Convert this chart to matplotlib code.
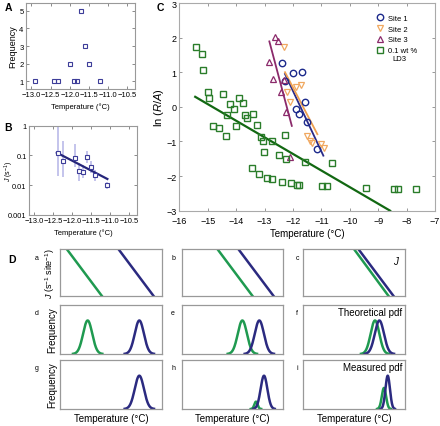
import numpy as np
import matplotlib
matplotlib.use("Agg")
import matplotlib.pyplot as plt

plt.rcParams['font.family'] = ['Liberation Sans', 'DejaVu Sans']
plt.rcParams['mathtext.fontset'] = 'custom'
plt.rcParams['mathtext.rm'] = 'Liberation Sans'
plt.rcParams['mathtext.it'] = 'Liberation Sans:italic'

# ---------------- data ----------------
# Panel A: frequency histogram points
A_temp = [-12.9, -12.4, -12.3, -12.0, -11.9, -11.8, -11.72, -11.6, -11.5, -11.2]
A_freq = [1, 1, 1, 2, 1, 1, 5, 3, 2, 1]

# Panel B: J vs temperature with error bars
B_temp = [-12.37, -12.26, -11.94, -11.83, -11.73, -11.61, -11.51, -11.40, -11.08]
B_J = [0.117, 0.067, 0.083, 0.030, 0.0266, 0.087, 0.0395, 0.022, 0.010]
B_J_hi = [0.9, 0.31, 0.24, 0.055, 0.046, 0.14, 0.063, 0.033, 0.013]
B_J_lo = [0.02, 0.019, 0.042, 0.014, 0.017, 0.055, 0.025, 0.014, 0.0076]
B_fit_T = [-12.41, -11.08]
B_fit_J = [0.123, 0.016]

# Panel C: ln(R/A) vs temperature
site1_T = [-12.40, -12.28, -11.99, -11.68, -11.58, -11.90, -11.79, -11.51, -11.16]
site1_y = [1.27, 0.75, 0.97, 1.01, 0.13, -0.06, -0.21, -0.45, -1.22]
site2_T = [-12.31, -11.89, -11.71, -12.22, -12.10, -11.52, -11.40, -11.32, -11.01, -10.90]
site2_y = [1.74, 0.58, 0.63, 0.42, 0.15, -0.84, -0.98, -1.03, -1.08, -1.20]
site3_T = [-12.63, -12.52, -12.83, -12.71, -12.30, -12.43, -12.24, -12.10]
site3_y = [2.01, 1.89, 1.31, 0.80, 0.77, 0.42, -0.16, -1.44]
ld3_T = [-15.42, -15.21, -15.17, -15.00, -14.94, -14.47, -14.23, -14.31, -14.09, -14.83,
         -14.60, -14.35, -14.00, -13.91, -13.77, -13.70, -13.63, -13.42, -13.27, -13.12,
         -13.07, -12.75, -13.01, -12.50, -12.27, -12.23, -11.58, -10.62, -13.43, -13.21,
         -12.92, -12.74, -12.40, -12.06, -11.87, -11.78, -10.96, -10.81, -9.43, -8.44,
         -8.29, -7.68]
ld3_y = [1.74, 1.53, 1.07, 0.42, 0.25, 0.37, 0.07, -0.24, -0.06, -0.55,
         -0.62, -0.83, -0.55, 0.25, 0.12, -0.24, -0.31, -0.21, -0.53, -0.86,
         -0.98, -0.98, -1.30, -1.39, -0.81, -1.52, -1.58, -1.62, -1.77, -1.94,
         -2.05, -2.08, -2.16, -2.20, -2.25, -2.25, -2.30, -2.30, -2.34, -2.36,
         -2.36, -2.36]
fit1_T, fit1_y = [-12.28, -10.93], [0.95, -1.41]
fit2_T, fit2_y = [-12.28, -11.14], [1.00, -0.79]
fit3_T, fit3_y = [-12.83, -12.04], [1.89, -0.55]
fitL_T, fitL_y = [-15.44, -8.58], [0.29, -3.0]

# Panel D: schematic (arbitrary units, x 0..10)
D_J_green = [(0.66, 4.10), (3.51, 6.95), (4.98, 8.36)]   # (x at top, x at bottom)
D_J_navy = [(5.74, 9.18), (5.57, 9.02), (5.41, 8.85)]
# pdf rows: (mu, sigma, peak) ; None = absent
D_theo_green = [(2.72, 0.45, 0.68), (5.97, 0.45, 0.68), (7.05, 0.43, 0.68)]
D_theo_navy = [(7.80, 0.45, 0.68), (7.64, 0.45, 0.68), (7.48, 0.45, 0.68)]
D_meas_green = [None, (7.31, 0.16, 0.15), (7.93, 0.21, 0.43)]
D_meas_navy = [(7.80, 0.45, 0.68), (8.10, 0.33, 0.68), (8.30, 0.22, 0.68)]
D_letters = [['a', 'b', 'c'], ['d', 'e', 'f'], ['g', 'h', 'i']]

# ---------------- figure ----------------
W, H = 440, 427
fig = plt.figure(figsize=(W / 100, H / 100), dpi=100)

def add_ax(l, r, t, b):
    return fig.add_axes([l / W, 1 - b / H, (r - l) / W, (b - t) / H])

spine_col = '#999999'
blue_pt = '#3d3d99'

def style_small(ax):
    for s in ax.spines.values():
        s.set_color(spine_col)
        s.set_linewidth(0.8)
    ax.tick_params(direction='in', length=2, width=0.6, color='#777777',
                   labelsize=5.5, pad=1.5, top=True, right=True)

xt_small = [-13.0, -12.5, -12.0, -11.5, -11.0, -10.5]
xt_small_lbl = ['\u221213.0', '\u221212.5', '\u221212.0', '\u221211.5', '\u221211.0', '\u221210.5']

# Panel A
axA = add_ax(25.7, 135, 4, 90)
axA.plot(A_temp, A_freq, 's', ms=2.6, mfc='none', mec=blue_pt, mew=0.8)
axA.set_xlim(-13.15, -10.3)
axA.set_ylim(0.55, 5.45)
axA.set_xticks(xt_small)
axA.set_xticklabels(xt_small_lbl)
axA.set_yticks([1, 2, 3, 4, 5])
style_small(axA)
axA.set_ylabel('Frequency', fontsize=6.5, labelpad=1.5)
axA.set_xlabel('Temperature (\u00b0C)', fontsize=5.5, labelpad=3)

# Panel B
axB = add_ax(28.7, 137, 126.7, 215.7)
yerr = [np.array(B_J) - np.array(B_J_lo), np.array(B_J_hi) - np.array(B_J)]
axB.errorbar(B_temp, B_J, yerr=yerr, fmt='none', ecolor='#c4c4ec', elinewidth=1.4, capsize=0)
axB.plot(B_fit_T, B_fit_J, '-', color='#25257a', lw=1.6)
axB.plot(B_temp, B_J, 's', ms=2.6, mfc='white', mec=blue_pt, mew=0.8)
axB.set_yscale('log')
axB.set_xlim(-13.15, -10.3)
axB.set_ylim(0.001, 1)
axB.set_yticks([0.001, 0.01, 0.1, 1])
axB.set_yticklabels(['0.001', '0.01', '0.1', '1'])
axB.minorticks_off()
axB.set_xticks(xt_small)
axB.set_xticklabels(xt_small_lbl)
style_small(axB)
axB.tick_params(axis='y', labelsize=5.3)
axB.set_ylabel('$J$ (s$^{-1}$)', fontsize=5)
axB.yaxis.set_label_coords(-0.115, 0.5)
axB.set_xlabel('Temperature (\u00b0C)', fontsize=5.5, labelpad=3)

# Panel C
axC = add_ax(179.3, 435, 4, 211.7)
c1, c2, c3, cL = '#1c2a8c', '#f0a860', '#8b2a6b', '#2a7d2a'
axC.plot(fit1_T, fit1_y, '-', color='#2a2a88', lw=1.3)
axC.plot(fit2_T, fit2_y, '-', color='#eea050', lw=1.3)
axC.plot(fit3_T, fit3_y, '-', color='#8b2a6b', lw=1.3)
axC.plot(fitL_T, fitL_y, '-', color='#126812', lw=1.6, clip_on=True)
h1, = axC.plot(site1_T, site1_y, 'o', ms=4.6, mfc='none', mec=c1, mew=1.0, label='Site 1')
h2, = axC.plot(site2_T, site2_y, 'v', ms=4.4, mfc='none', mec=c2, mew=0.9, label='Site 2')
h3, = axC.plot(site3_T, site3_y, '^', ms=4.4, mfc='none', mec=c3, mew=0.9, label='Site 3')
h4, = axC.plot(ld3_T, ld3_y, 's', ms=4.4, mfc='none', mec=cL, mew=1.0, label='0.1 wt %')
axC.set_xlim(-16, -7)
axC.set_ylim(-3, 3)
axC.set_xticks(range(-16, -6))
axC.set_xticklabels(['\u2212%d' % (-v) for v in range(-16, -6)])
axC.set_yticks(range(-3, 4))
axC.set_yticklabels(['\u2212%d' % (-v) if v < 0 else '%d' % v for v in range(-3, 4)])
for s in axC.spines.values():
    s.set_color('#aaaaaa')
    s.set_linewidth(0.8)
axC.tick_params(direction='in', length=2.5, width=0.6, color='#888888',
                labelsize=6.5, pad=2, top=True, right=True)
axC.tick_params(axis='x', pad=4)
axC.set_ylabel('ln ($R$/$A$)', fontsize=8, labelpad=0.5)
axC.set_xlabel('Temperature (\u00b0C)', fontsize=7, labelpad=2)
leg = axC.legend(handles=[h1, h2, h3, h4], loc='upper left', bbox_to_anchor=(376 / W, 1 - 15.5 / H),
                 bbox_transform=fig.transFigure, frameon=False, fontsize=5.5,
                 handlelength=1.0, handletextpad=0.6, labelspacing=0.45, borderpad=0,
                 borderaxespad=0)
fig.text(392 / W, 1 - 59.5 / H, 'LD3', fontsize=5.5, va='center', ha='left')

# Panel D
cols = [(60, 161.7), (181.7, 283.3), (303.3, 405)]
letter_x = [37, 173, 297]
rows = [(250, 296.7), (305.7, 355), (361, 410)]
gD, nD = '#1f9a50', '#2b2a80'

def gauss(ax, p, color):
    if p is None:
        return
    mu, sig, pk = p
    x = np.linspace(mu - 3.2 * sig, mu + 3.2 * sig, 200)
    ax.plot(x, pk * np.exp(-0.5 * ((x - mu) / sig) ** 2), color=color, lw=1.8)

for r, (t, b) in enumerate(rows):
    for c, (l, rr) in enumerate(cols):
        ax = add_ax(l, rr, t, b)
        ax.set_xlim(0, 10)
        if r == 0:
            ax.set_ylim(0, 10)
            ax.plot(D_J_green[c], [10, 0], color=gD, lw=1.8)
            ax.plot(D_J_navy[c], [10, 0], color=nD, lw=1.8)
        else:
            ax.set_ylim(0, 1)
            if r == 1:
                gauss(ax, D_theo_green[c], gD)
                gauss(ax, D_theo_navy[c], nD)
            else:
                gauss(ax, D_meas_green[c], gD)
                gauss(ax, D_meas_navy[c], nD)
        ax.set_xticks([])
        ax.set_yticks([])
        for s in ax.spines.values():
            s.set_color('#999999')
            s.set_linewidth(0.9)
        fig.text(letter_x[c] / W, 1 - (t + 8) / H, D_letters[r][c], fontsize=5, ha='center', va='center')
        if c == 0:
            if r == 0:
                ax.set_ylabel('$J$ (s$^{-1}$ site$^{-1}$)', fontsize=6.5, labelpad=2)
            else:
                ax.set_ylabel('Frequency', fontsize=7, labelpad=2)
        if r == 2:
            ax.set_xlabel('Temperature (\u00b0C)', fontsize=7, labelpad=3)
        if r == 0 and c == 2:
            ax.text(0.95, 0.9, '$J$', transform=ax.transAxes, ha='right', va='top', fontsize=7)
        if r == 1 and c == 2:
            ax.text(0.97, 0.95, 'Theoretical pdf', transform=ax.transAxes, ha='right', va='top', fontsize=7)
        if r == 2 and c == 2:
            ax.text(0.97, 0.95, 'Measured pdf', transform=ax.transAxes, ha='right', va='top', fontsize=7)

# Panel letters
fig.text(5 / W, 1 - 8 / H, 'A', fontsize=7.5, fontweight='bold', va='center')
fig.text(4 / W, 1 - 128 / H, 'B', fontsize=7.5, fontweight='bold', va='center')
fig.text(157 / W, 1 - 8 / H, 'C', fontsize=7.5, fontweight='bold', va='center')
fig.text(8 / W, 1 - 260 / H, 'D', fontsize=7.5, fontweight='bold', va='center')

fig.savefig('out.png', dpi=100)
